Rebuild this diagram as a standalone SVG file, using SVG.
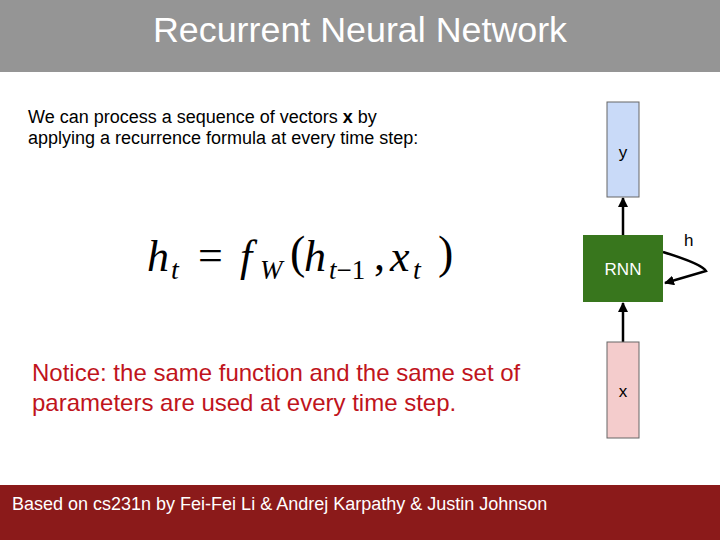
<svg xmlns="http://www.w3.org/2000/svg" width="720" height="540" viewBox="0 0 720 540">
<defs>
<marker id="ah" markerWidth="10" markerHeight="10" refX="9" refY="5" orient="auto" markerUnits="userSpaceOnUse" viewBox="0 0 10 10">
<path d="M0,0 L10,5 L0,10 Z" fill="#000"/>
</marker>
<style>
.sans{font-family:"Liberation Sans",Arial,sans-serif}
.math{font-family:"Liberation Serif","Times New Roman",serif;font-style:italic;fill:#000}
.rm{font-family:"Liberation Serif","Times New Roman",serif;fill:#000}
.conn{stroke:#000;stroke-width:2.5;fill:none}
</style>
</defs>
<rect x="0" y="0" width="720" height="540" fill="#fff"/>
<rect x="0" y="0" width="720" height="72" fill="#959595"/>
<text x="360" y="42" text-anchor="middle" class="sans" font-size="35" fill="#fff" textLength="414" lengthAdjust="spacingAndGlyphs">Recurrent Neural Network</text>
<text class="sans" font-size="18" fill="#000"><tspan x="28" y="123">We can process a sequence of vectors <tspan font-weight="bold">x</tspan> by</tspan><tspan x="28" y="144">applying a recurrence formula at every time step:</tspan></text>
<g id="formula">
<text class="math" font-size="44" x="147" y="271">h</text>
<text class="math" font-size="28" x="171" y="279">t</text>
<text class="rm" font-size="44" x="198" y="270">=</text>
<text class="math" font-size="44" x="240" y="271">f</text>
<text class="math" font-size="27" x="260" y="279">W</text>
<text class="rm" font-size="46" x="290" y="268">(</text>
<text class="math" font-size="44" x="304" y="271">h</text>
<text class="math" font-size="27" x="329" y="279">t<tspan font-style="normal">−1</tspan></text>
<text class="rm" font-size="44" x="374" y="270">,</text>
<text class="math" font-size="44" x="390" y="271">x</text>
<text class="math" font-size="28" x="413" y="279">t</text>
<text class="rm" font-size="46" x="438" y="268">)</text>
</g>
<text class="sans" font-size="24" fill="#C0141C"><tspan x="32" y="381">Notice: the same function and the same set of</tspan><tspan x="32" y="411">parameters are used at every time step.</tspan></text>
<rect x="0" y="485" width="720" height="55" fill="#8B1A1A"/>
<text x="12" y="510" class="sans" font-size="18" fill="#fff">Based on cs231n by Fei-Fei Li &amp; Andrej Karpathy &amp; Justin Johnson</text>
<g id="connectors">
<line class="conn" x1="623" y1="235" x2="623" y2="198" marker-end="url(#ah)"/>
<line class="conn" x1="623" y1="342" x2="623" y2="303" marker-end="url(#ah)"/>
<path class="conn" d="M663,252 Q702,264 706,271 L665,283" marker-end="url(#ah)"/>
<text x="684" y="246" class="sans" font-size="17" fill="#000">h</text>
</g>
<g id="node-y">
<rect x="607" y="102" width="32" height="95" fill="#C9DAF8" stroke="#666" stroke-width="1"/>
<text x="623" y="158" text-anchor="middle" class="sans" font-size="17" fill="#000">y</text>
</g>
<g id="node-rnn">
<rect x="583" y="235" width="80" height="67" fill="#38761D"/>
<text x="623" y="275" text-anchor="middle" class="sans" font-size="17" fill="#fff">RNN</text>
</g>
<g id="node-x">
<rect x="607" y="342" width="32" height="96" fill="#F4CCCC" stroke="#666" stroke-width="1"/>
<text x="623" y="397" text-anchor="middle" class="sans" font-size="17" fill="#000">x</text>
</g>
</svg>
